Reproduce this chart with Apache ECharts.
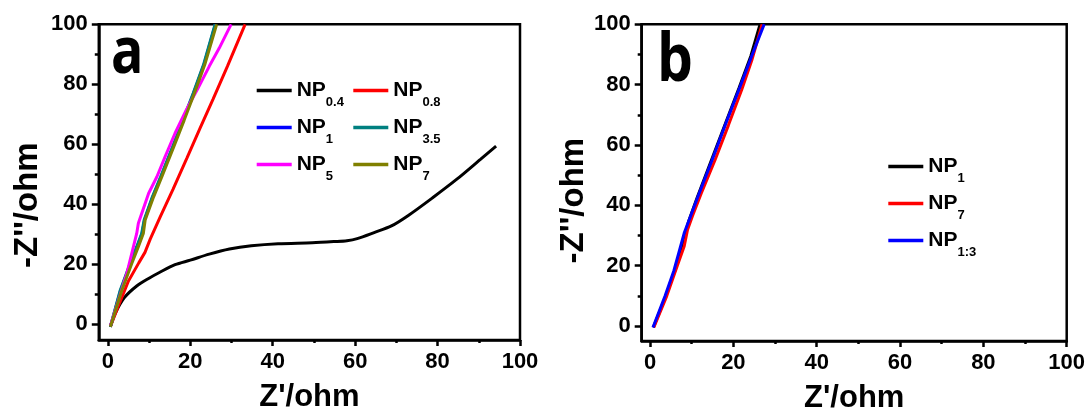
<!DOCTYPE html>
<html>
<head>
<meta charset="utf-8">
<script src="https://cdn.jsdelivr.net/npm/echarts@6/dist/echarts.min.js"></script>
<style>
html, body { margin: 0; padding: 0; background: #fff; }
#main { width: 1091px; height: 412px; }
</style>
</head>
<body>
<div id="main"></div>
<script>
// tick values
var majorTicks = [0, 20, 40, 60, 80, 100];
var minorTicks = [10, 30, 50, 70, 90];

// panel a
var np04X = [0.6, 1.8, 4, 7, 10, 12.5, 16.3, 20, 24.6, 29.5, 34.8, 41.3, 49.6, 55, 58, 60.5, 64.6, 68.8, 72.9, 78.8, 84.6, 90.4, 94.2];
var np04Y = [-0.8, 3.7, 8.9, 12.8, 15.4, 17.3, 19.9, 21.4, 23.4, 25.1, 26.2, 26.9, 27.2, 27.6, 27.9, 28.6, 30.6, 32.8, 36.3, 42.2, 48.3, 55, 59.4];
var np08X = [0.6, 2.5, 5, 7.5, 9, 10.3, 12.7, 15.8, 19.2, 22.4, 25.5, 29, 33.3];
var np08Y = [-0.8, 6, 14.5, 20.5, 24, 28.5, 35.8, 45, 55.5, 65.5, 75, 86, 100];
var np1X = [0.6, 3.1, 5.5, 7.1, 8.3, 8.9, 10.9, 12.9, 15.8, 18.3, 20.8, 23.3, 26.1];
var np1Y = [-0.8, 11.4, 20.3, 25.9, 30.3, 34.8, 42.5, 49.2, 59.2, 68, 77, 86.5, 100];
var np35X = [0.6, 3.0, 5.4, 7.0, 8.2, 8.8, 10.8, 12.8, 15.7, 18.2, 20.7, 23.2, 26.0];
var np35Y = [-0.8, 11.4, 20.3, 25.9, 30.3, 34.8, 42.5, 49.2, 59.2, 68, 77, 86.5, 100];
var np5X = [0.6, 2.6, 4.6, 5.8, 7.0, 7.4, 9.9, 11.9, 13.9, 16.3, 19, 21.8, 24.6, 27, 29.9];
var np5Y = [-0.5, 8.1, 17, 23.7, 30.3, 33.7, 43.7, 49.2, 55.9, 63.7, 71.4, 78.5, 86, 92, 100];
var np7X = [0.6, 3.4, 5.8, 7.4, 8.6, 9.05, 11.1, 13.1, 16, 18.5, 21, 23.5, 26.4];
var np7Y = [-0.8, 11.4, 20.3, 25.9, 30.3, 34.8, 42.5, 49.2, 59.2, 68, 77, 86.5, 100];

// panel b
var bNp1X = [0.8, 3.8, 6.0, 7.4, 8.0, 8.7, 9.3, 11.3, 14.7, 18.0, 21.4, 24.2, 26.4];
var bNp1Y = [-0.5, 9.9, 18.5, 24.5, 27, 32, 34.8, 42.5, 54.8, 66.8, 79, 89.5, 100];
var bNp7X = [0.9, 4.0, 6.5, 8.2, 9.0, 10.2, 12.3, 15.6, 18.8, 22.0, 24.4, 26.9];
var bNp7Y = [-0.5, 9.9, 19.8, 26.4, 31.9, 36.5, 44, 55, 66.5, 78.3, 88, 100];
var bNp13X = [0.7, 3.6, 5.7, 6.9, 8.2, 9.4, 11.5, 14.9, 18.2, 21.6, 24.5, 27.4];
var bNp13Y = [-0.5, 9.9, 18.2, 24.2, 30.8, 35.2, 42.9, 55, 67.2, 79.3, 89.8, 100];

var FONT = 'Liberation Sans';

function pairs(xs, ys) {
    return xs.map(function (x, i) { return [x, ys[i]]; });
}

function line(name, xs, ys, color, axis, smooth) {
    return {
        name: name, type: 'line', xAxisIndex: axis, yAxisIndex: axis,
        data: pairs(xs, ys), symbol: 'none', smooth: smooth || false,
        itemStyle: { color: color },
        lineStyle: { color: color, width: 3 },
        animation: false
    };
}

var labelStyle = { color: '#000', fontSize: 22, fontWeight: 'bold', fontFamily: FONT, margin: 11 };

function xAxes(grid, min) {
    return [{
        gridIndex: grid, type: 'value', min: min, max: 100,
        axisLine: { show: true, onZero: false, lineStyle: { color: '#000', width: 2.5 } },
        axisTick: { show: true, customValues: majorTicks, length: 6, lineStyle: { color: '#000', width: 2.5 } },
        axisLabel: Object.assign({ customValues: majorTicks }, labelStyle),
        splitLine: { show: false },
        name: "Z'/ohm", nameLocation: 'middle', nameGap: 42,
        nameTextStyle: { color: '#000', fontSize: 31, fontWeight: 'bold', fontFamily: FONT }
    }, {
        gridIndex: grid, type: 'value', min: min, max: 100, position: 'bottom',
        axisLine: { show: false, onZero: false },
        axisTick: { show: true, customValues: minorTicks, length: 3, lineStyle: { color: '#000', width: 2.5 } },
        axisLabel: { show: false }, splitLine: { show: false }
    }];
}

function yAxes(grid, min, gap, shift) {
    return [{
        gridIndex: grid, type: 'value', min: min, max: 100,
        axisLine: { show: true, onZero: false, lineStyle: { color: '#000', width: 2.5 } },
        axisTick: { show: true, customValues: majorTicks, length: 7, lineStyle: { color: '#000', width: 2.5 } },
        axisLabel: Object.assign({ customValues: majorTicks }, labelStyle),
        splitLine: { show: false },
        name: "-Z''/ohm", nameLocation: 'middle', nameGap: gap,
        nameTextStyle: { color: '#000', fontSize: 33, fontWeight: 'bold', fontFamily: FONT, padding: [0, shift, 0, 0] }
    }, {
        gridIndex: grid, type: 'value', min: min, max: 100, position: 'left',
        axisLine: { show: false, onZero: false },
        axisTick: { show: true, customValues: minorTicks, length: 4, lineStyle: { color: '#000', width: 2.5 } },
        axisLabel: { show: false }, splitLine: { show: false }
    }];
}

function legend(names, left, top) {
    return {
        data: names, left: left, top: top, orient: 'vertical', padding: 0,
        icon: 'rect', itemWidth: 35, itemHeight: 3.5, itemGap: 0, selectedMode: false,
        formatter: function (n) { return '{n|NP}{s|' + n.slice(2) + '}'; },
        textStyle: {
            color: '#000', fontWeight: 'bold', fontFamily: FONT,
            rich: {
                n: { color: '#000', fontSize: 21, fontWeight: 'bold', fontFamily: FONT, lineHeight: 22 },
                s: { color: '#000', fontSize: 13, fontWeight: 'bold', fontFamily: FONT, lineHeight: 13, padding: [24, 0, 0, 0] }
            }
        }
    };
}

var gridStyle = { show: true, borderColor: '#000', borderWidth: 2.5, backgroundColor: 'transparent', containLabel: false, outerBoundsMode: 'none' };

var option = {
    backgroundColor: '#fff',
    animation: false,
    grid: [
        Object.assign({ left: 98.8, top: 24.3, width: 421.2, height: 315.7 }, gridStyle),
        Object.assign({ left: 641.7, top: 24.3, width: 425, height: 316.7 }, gridStyle)
    ],
    xAxis: xAxes(0, -2.2).concat(xAxes(1, -2)),
    yAxis: yAxes(0, -5.2, 54, 46).concat(yAxes(1, -5, 49, 36)),
    legend: [
        legend(['a:0.4', 'a:1', 'a:5'], 256.7, 72),
        legend(['a:0.8', 'a:3.5', 'a:7'], 353.3, 72),
        legend(['b:1', 'b:7', 'b:1:3'], 888.3, 148)
    ],
    graphic: [
        { type: 'text', x: 111, y: 23, scaleX: 0.84, style: { text: 'a', font: 'bold 64px "Open Sans"', fill: '#000' } },
        { type: 'text', x: 657, y: 29, scaleX: 0.86, style: { text: 'b', font: 'bold 66px "Open Sans"', fill: '#000' } }
    ],
    series: [
        line('a:0.4', np04X, np04Y, '#000000', 0, 0.3),
        line('a:0.8', np08X, np08Y, '#ff0000', 0),
        line('a:1', np1X, np1Y, '#0000ff', 0),
        line('a:3.5', np35X, np35Y, '#008080', 0),
        line('a:5', np5X, np5Y, '#ff00ff', 0),
        line('a:7', np7X, np7Y, '#808000', 0),
        line('b:1', bNp1X, bNp1Y, '#000000', 2),
        line('b:7', bNp7X, bNp7Y, '#ff0000', 2),
        line('b:1:3', bNp13X, bNp13Y, '#0000ff', 2)
    ]
};

var chart = echarts.init(document.getElementById('main'));
chart.setOption(option);
</script>
</body>
</html>
